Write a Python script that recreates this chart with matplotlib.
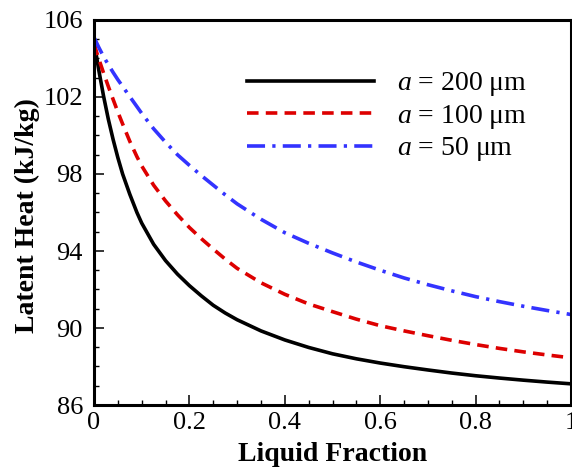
import matplotlib
matplotlib.use("Agg")
import matplotlib.pyplot as plt
from matplotlib.ticker import MultipleLocator

plt.rcParams['font.family'] = ['Liberation Serif', 'DejaVu Serif']
plt.rcParams['mathtext.fontset'] = 'custom'
plt.rcParams['mathtext.rm'] = 'Liberation Serif'
plt.rcParams['mathtext.it'] = 'Liberation Serif:italic'

# Data
liquid_fraction = [0.0, 0.01, 0.02, 0.03, 0.04, 0.05, 0.06, 0.075, 0.09, 0.1,
                   0.125, 0.15, 0.175, 0.2, 0.225, 0.25, 0.275, 0.3, 0.35, 0.4,
                   0.45, 0.5, 0.55, 0.6, 0.65, 0.7, 0.75, 0.8, 0.85, 0.9, 0.95, 1.0]
heat_200 = [104.9, 103.4, 102.05, 100.85, 99.8, 98.85, 98.0, 96.95, 96.0, 95.45,
            94.35, 93.5, 92.8, 92.2, 91.67, 91.18, 90.78, 90.43, 89.85, 89.38,
            88.99, 88.66, 88.4, 88.18, 87.99, 87.82, 87.66, 87.52, 87.4, 87.29, 87.19, 87.1]
heat_100 = [104.75, 103.98, 103.25, 102.55, 101.88, 101.22, 100.6, 99.7, 98.9, 98.42,
            97.42, 96.6, 95.88, 95.22, 94.64, 94.1, 93.58, 93.1, 92.35, 91.75,
            91.25, 90.85, 90.46, 90.12, 89.85, 89.6, 89.36, 89.14, 88.94, 88.76, 88.6, 88.45]
heat_50 = [105.1, 104.58, 104.1, 103.68, 103.28, 102.9, 102.55, 102.02, 101.5, 101.15,
           100.35, 99.65, 99.0, 98.45, 97.92, 97.42, 96.92, 96.45, 95.65, 94.95,
           94.4, 93.9, 93.43, 93.0, 92.6, 92.25, 91.93, 91.63, 91.37, 91.13, 90.91, 90.7]
labels = [r'$a$ = 200 μm', r'$a$ = 100 μm', r'$a$ = 50 μm']
x_ticks = [0, 0.2, 0.4, 0.6, 0.8, 1.0]
x_tick_labels = ['0', '0.2', '0.4', '0.6', '0.8', '1']
y_ticks = [86, 90, 94, 98, 102, 106]

fig = plt.figure(figsize=(5.72, 4.73), dpi=100)
ax = fig.add_axes([94/572, 68/473, 477/572, 385/473])

lw = 2.6
ax.plot(liquid_fraction, heat_200, color='black', lw=lw, linestyle='-', label=labels[0])
ax.plot(liquid_fraction, heat_100, color='#dd0000', lw=lw, linestyle=(0, (3.2, 2.0)), label=labels[1])
ax.plot(liquid_fraction, heat_50, color='#3333ff', lw=lw, linestyle=(0, (5.0, 2.0, 0.9, 2.0)), label=labels[2])

ax.set_xlim(0, 1)
ax.set_ylim(86, 106)
ax.set_xticks(x_ticks)
ax.set_xticklabels(x_tick_labels)
ax.set_yticks(y_ticks)
ax.xaxis.set_minor_locator(MultipleLocator(0.05))
ax.yaxis.set_minor_locator(MultipleLocator(1))

ax.tick_params(which='major', direction='in', length=7, width=1.1, labelsize=19)
ax.tick_params(axis='x', which='major', pad=5)
ax.tick_params(axis='y', which='major', pad=8)
ax.tick_params(which='minor', direction='in', length=3.5, width=1.0)
ax.tick_params(top=False, right=False, which='both')
for s in ax.spines.values():
    s.set_linewidth(2.2)

ax.set_xlabel('Liquid Fraction', fontsize=20, fontweight='bold')
ax.set_ylabel('Latent Heat (kJ/kg)', fontsize=20, fontweight='bold')
ax.xaxis.set_label_coords(0.5, -0.095)
ax.yaxis.set_label_coords(-0.114, 0.491)

leg = ax.legend(loc='upper left', bbox_to_anchor=(0.32, 0.869), frameon=False,
                fontsize=20, handlelength=4.6, handletextpad=0.8,
                labelspacing=0.16, borderpad=0, borderaxespad=0)

fig.savefig('out.png', dpi=100)
